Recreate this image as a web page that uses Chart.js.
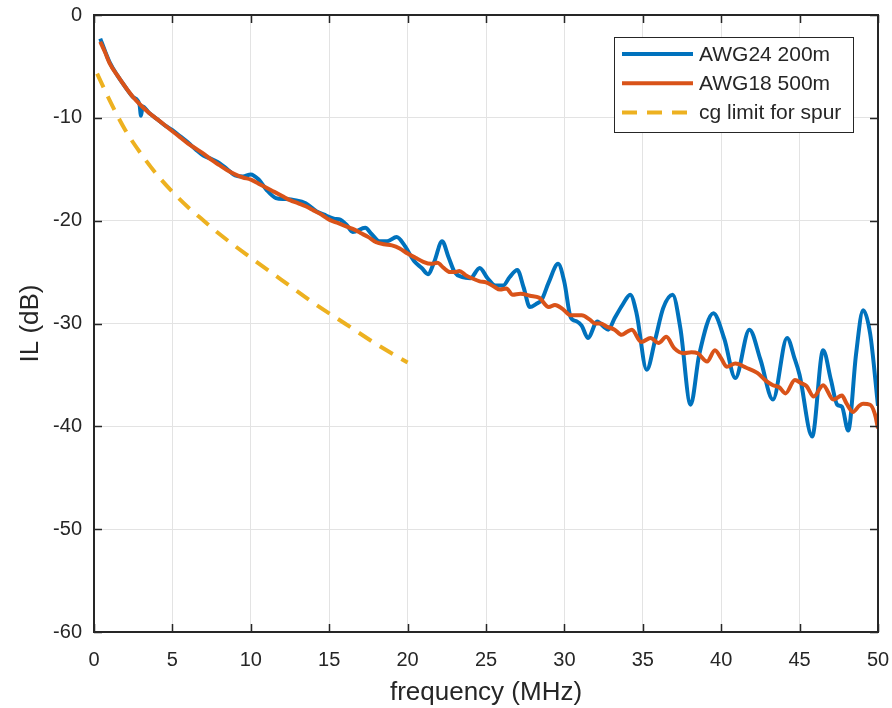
<!DOCTYPE html>
<html>
<head>
<meta charset="utf-8">
<script src="https://cdn.jsdelivr.net/npm/chart.js@4"></script>
<style>
html, body { margin: 0; padding: 0; background: #fff; }
</style>
</head>
<body>
<canvas id="il" width="892" height="708"></canvas>
<script>
// AWG24 200m (blue)
var freqBlue = [0.4, 0.7, 1.0, 1.5, 2.0, 2.5, 2.9, 3.0, 3.1, 3.5, 4.0, 4.5, 5.0, 5.5, 6.0, 6.5, 7.0, 7.5, 8.0, 8.5,
  9.0, 9.5, 10.0, 10.5, 11.0, 11.6, 12.2, 12.8, 13.5, 14.2, 14.8, 15.3, 15.7, 16.1, 16.5, 17.3, 17.7, 18.2, 18.7, 19.3,
  19.8, 20.4, 20.9, 21.3, 21.7, 22.2, 22.6, 23.0, 23.5, 24.0, 24.6, 25.1, 25.6, 26.1, 26.5, 27.0, 27.4, 27.8, 28.2, 28.55,
  29.0, 29.6, 30.0, 30.4, 30.8, 31.1, 31.5, 32.1, 32.5, 32.8, 33.2, 33.7, 34.2, 34.6, 35.25, 35.8, 36.3, 36.9, 37.4, 38.05,
  38.6, 39.5, 40.2, 40.9, 41.8, 42.5, 43.3, 44.2, 44.7, 45.0, 45.8, 46.5, 47.0, 47.4, 47.7, 48.1, 48.6, 49.05, 49.5, 50.0];
var ilBlue = [-2.3, -3.5, -4.6, -5.9, -7.0, -8.0, -8.7, -9.8, -8.9, -9.5, -10.1, -10.7, -11.2, -11.8, -12.4, -13.1, -13.7, -14.0, -14.4, -15.0,
  -15.6, -15.7, -15.5, -16.0, -17.0, -17.8, -17.9, -18.0, -18.3, -19.1, -19.5, -19.8, -19.9, -20.4, -21.1, -20.7, -21.3, -22.0, -22.0, -21.6,
  -22.4, -23.9, -24.6, -25.2, -24.0, -22.0, -23.5, -25.0, -25.5, -25.6, -24.6, -25.6, -26.3, -26.3, -25.5, -24.8, -26.5, -28.4, -28.1, -27.7,
  -26.0, -24.2, -26.0, -29.4, -29.8, -30.2, -31.4, -29.8, -30.3, -30.6, -29.5, -28.2, -27.2, -29.0, -34.5, -31.5, -28.5, -27.2, -30.5, -37.9,
  -33.0, -29.0, -31.5, -35.3, -30.6, -33.5, -37.4, -31.4, -33.5, -35.0, -41.0, -32.6, -35.5, -37.9, -38.1, -40.4, -33.0, -28.7, -31.0, -38.0];

// AWG18 500m (orange)
var freqOrange = [0.4, 0.7, 1.0, 1.5, 2.0, 2.5, 3.0, 3.5, 4.0, 4.5, 5.0, 5.5, 6.0, 6.5, 7.0, 7.5, 8.0, 8.5, 9.0, 9.5,
  10.0, 10.5, 11.0, 11.5, 12.0, 12.5, 13.0, 13.5, 14.0, 14.5, 15.0, 15.5, 16.0, 16.5, 17.0, 17.5, 18.0, 18.5, 19.0, 19.5,
  20.0, 20.5, 21.0, 21.5, 21.9, 22.3, 22.7, 23.0, 23.3, 23.7, 24.1, 24.6, 25.0, 25.5, 25.9, 26.3, 26.7, 27.2, 27.8, 28.4,
  29.0, 29.4, 29.9, 30.4, 31.1, 31.6, 31.95, 32.3, 32.7, 33.2, 33.65, 34.0, 34.3, 34.9, 35.5, 36.0, 36.5, 37.0, 37.6, 38.1,
  38.5, 39.1, 39.6, 40.0, 40.35, 40.9, 41.6, 42.3, 42.8, 43.3, 43.7, 44.1, 44.7, 45.1, 45.45, 45.9, 46.5, 47.15, 47.7, 48.0,
  48.4, 48.8, 49.05, 49.5, 49.8, 50.0];
var ilOrange = [-2.6, -3.6, -4.7, -5.9, -7.0, -8.0, -8.8, -9.5, -10.1, -10.7, -11.3, -11.9, -12.5, -13.0, -13.5, -14.1, -14.6, -15.1, -15.5, -15.8,
  -16.0, -16.4, -16.8, -17.2, -17.6, -18.0, -18.3, -18.6, -19.0, -19.4, -19.9, -20.2, -20.5, -20.8, -21.2, -21.6, -22.1, -22.3, -22.4, -22.7,
  -23.2, -23.6, -24.0, -24.2, -24.1, -24.6, -25.0, -25.0, -24.9, -25.3, -25.6, -25.9, -26.0, -26.4, -26.7, -26.6, -27.2, -27.1, -27.3, -27.5,
  -28.4, -28.2, -28.6, -29.2, -29.2, -29.6, -30.0, -30.0, -30.3, -30.6, -31.1, -30.8, -30.6, -31.8, -31.4, -31.9, -31.3, -32.4, -32.9, -32.8,
  -32.9, -33.7, -32.6, -33.4, -34.2, -33.9, -34.3, -34.8, -35.5, -36.0, -36.2, -36.8, -35.5, -35.8, -36.1, -37.1, -36.0, -37.4, -37.0, -37.8,
  -38.6, -38.0, -37.8, -37.9, -38.8, -40.2];

// cg limit for spur (yellow dashed)
var freqLimit = [0.2, 1.0, 2.0, 3.0, 4.0, 5.0, 6.0, 7.0, 8.0, 10.0, 12.0, 14.0, 16.0, 18.0, 20.0];
var ilLimit = [-5.7, -8.3, -11.2, -13.5, -15.5, -17.2, -18.7, -20.0, -21.3, -23.6, -25.8, -28.0, -30.0, -32.0, -33.8];

var seriesNames = ["AWG24 200m", "AWG18 500m", "cg limit for spur"];
var xTicks = [0, 5, 10, 15, 20, 25, 30, 35, 40, 45, 50];
var yTicks = [-60, -50, -40, -30, -20, -10, 0];

function pairs(xs, ys) {
  return xs.map(function (v, i) { return { x: v, y: ys[i] }; });
}

var font = '"Liberation Sans", Arial, sans-serif';
var ink = "#262626";

// MATLAB style box, inward ticks and legend
const matlabBox = {
  id: "matlabBox",
  afterDraw(chart) {
    const { ctx, chartArea: a, scales } = chart;
    const x = scales.x, y = scales.y;
    ctx.save();
    ctx.strokeStyle = ink;
    ctx.lineWidth = 1.5;
    ctx.beginPath();
    xTicks.forEach(function (v) {
      const px = Math.round(x.getPixelForValue(v)) + 0.5;
      ctx.moveTo(px, a.bottom); ctx.lineTo(px, a.bottom - 8);
      ctx.moveTo(px, a.top); ctx.lineTo(px, a.top + 8);
    });
    yTicks.forEach(function (v) {
      const py = Math.round(y.getPixelForValue(v)) + 0.5;
      ctx.moveTo(a.left, py); ctx.lineTo(a.left + 8, py);
      ctx.moveTo(a.right, py); ctx.lineTo(a.right - 8, py);
    });
    ctx.stroke();
    ctx.lineWidth = 2;
    ctx.strokeRect(a.left, a.top, a.right - a.left, a.bottom - a.top);

    // legend
    const lx = 614, ly = 37, lw = 239, lh = 95;
    ctx.fillStyle = "#fff";
    ctx.fillRect(lx, ly, lw, lh);
    ctx.lineWidth = 1;
    ctx.strokeStyle = ink;
    ctx.strokeRect(lx + 0.5, ly + 0.5, lw, lh);
    ctx.font = "21px " + font;
    ctx.textBaseline = "middle";
    chart.data.datasets.forEach(function (ds, i) {
      const yy = 54 + i * 29.3;
      ctx.beginPath();
      ctx.strokeStyle = ds.borderColor;
      ctx.lineWidth = 4;
      ctx.setLineDash(ds.borderDash || []);
      ctx.moveTo(622, yy);
      ctx.lineTo(693, yy);
      ctx.stroke();
      ctx.setLineDash([]);
      ctx.fillStyle = ink;
      ctx.fillText(ds.label, 699, yy + 1);
    });
    ctx.restore();
  }
};

new Chart("il", {
  type: "line",
  data: {
    datasets: [{
      label: seriesNames[0],
      data: pairs(freqBlue, ilBlue),
      borderColor: "#0072BD",
      borderWidth: 4,
      pointRadius: 0,
      cubicInterpolationMode: "monotone",
      order: 2
    }, {
      label: seriesNames[1],
      data: pairs(freqOrange, ilOrange),
      borderColor: "#D95319",
      borderWidth: 4,
      pointRadius: 0,
      cubicInterpolationMode: "monotone",
      order: 1
    }, {
      label: seriesNames[2],
      data: pairs(freqLimit, ilLimit),
      borderColor: "#EDB120",
      borderWidth: 4,
      borderDash: [15, 10],
      pointRadius: 0,
      cubicInterpolationMode: "monotone",
      order: 0
    }]
  },
  options: {
    responsive: false,
    animation: false,
    events: [],
    layout: { padding: { top: 15, right: 14, left: 0, bottom: 0 } },
    plugins: {
      legend: { display: false },
      tooltip: { enabled: false }
    },
    scales: {
      x: {
        type: "linear",
        min: 0,
        max: 50,
        afterBuildTicks: function (s) { s.ticks = xTicks.map(function (v) { return { value: v }; }); },
        afterFit: function (s) { s.height = 76; s.paddingLeft = 0; s.paddingRight = 0; },
        grid: { color: "#e3e3e3", drawTicks: false },
        border: { display: false },
        ticks: { color: ink, padding: 16, font: { family: font, size: 20 } },
        title: {
          display: true,
          text: "frequency (MHz)",
          color: ink,
          font: { family: font, size: 26 },
          padding: { top: 0, bottom: 0 }
        }
      },
      y: {
        min: -60,
        max: 0,
        afterBuildTicks: function (s) { s.ticks = yTicks.map(function (v) { return { value: v }; }); },
        afterFit: function (s) { s.width = 94; s.paddingTop = 0; s.paddingBottom = 0; },
        grid: { color: "#e3e3e3", drawTicks: false },
        border: { display: false },
        ticks: { color: ink, padding: 12, font: { family: font, size: 20 } },
        title: {
          display: true,
          text: "IL (dB)",
          color: ink,
          font: { family: font, size: 26 },
          padding: { top: 15, bottom: 0 }
        }
      }
    }
  },
  plugins: [matlabBox]
});
</script>
</body>
</html>
